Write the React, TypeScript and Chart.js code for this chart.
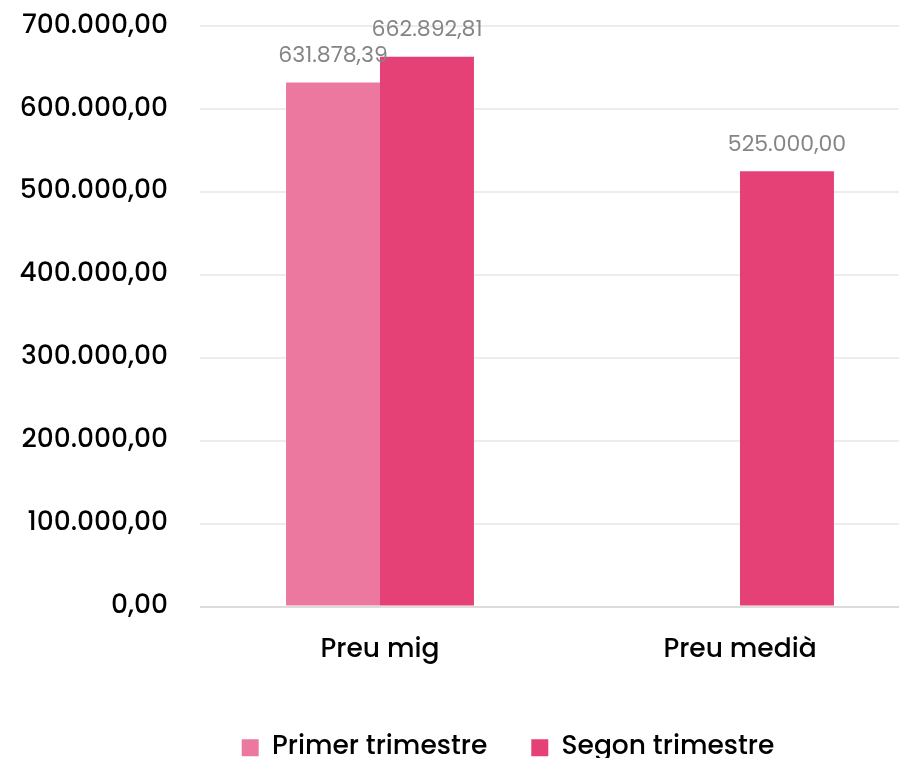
import React, { useEffect, useRef } from 'react';
import { Chart, registerables } from 'chart.js';

Chart.register(...registerables);

const categories = ['Preu mig', 'Preu medià'];
const seriesNames = ['Primer trimestre', 'Segon trimestre'];
const primerTrimestre: (number | null)[] = [631878.39, null];
const segonTrimestre: (number | null)[] = [662892.81, 525000.0];
const yTicks = [0, 100000, 200000, 300000, 400000, 500000, 600000, 700000];
const seriesColors = ['#ec789f', '#e54177'];

const FONT = 'Poppins, Inter, "Noto Sans", sans-serif';

function fmt(v: number): string {
  const fixed = Math.abs(v).toFixed(2);
  const [intPart, dec] = fixed.split('.');
  const grouped = intPart.replace(/\B(?=(\d{3})+(?!\d))/g, '.');
  return (v < 0 ? '-' : '') + grouped + ',' + dec;
}

const dataLabelPlugin = {
  id: 'dataLabels',
  afterDatasetsDraw(chart: any) {
    const ctx = chart.ctx;
    ctx.save();
    ctx.font = `22px ${FONT}`;
    ctx.fillStyle = '#858585';
    ctx.textAlign = 'center';
    ctx.textBaseline = 'middle';
    chart.data.datasets.forEach((ds: any, di: number) => {
      const meta = chart.getDatasetMeta(di);
      meta.data.forEach((el: any, i: number) => {
        const v = ds.data[i];
        if (v === null || v === undefined) return;
        ctx.fillText(fmt(v), el.x, el.y - 26);
      });
    });
    ctx.restore();
  },
};

export default function App() {
  const ref = useRef<HTMLCanvasElement>(null);
  useEffect(() => {
    if (!ref.current) return;
    const chart = new Chart(ref.current, {
      type: 'bar',
      data: {
        labels: categories,
        datasets: [
          {
            label: seriesNames[0],
            data: primerTrimestre,
            backgroundColor: seriesColors[0],
            categoryPercentage: 0.522,
            barPercentage: 1,
          },
          {
            label: seriesNames[1],
            data: segonTrimestre,
            backgroundColor: seriesColors[1],
            categoryPercentage: 0.522,
            barPercentage: 1,
          },
        ],
      },
      options: {
        responsive: false,
        animation: false,
        devicePixelRatio: 1,
        layout: { autoPadding: false, padding: { top: 26, right: 0, left: 0, bottom: 0 } },
        plugins: {
          tooltip: { enabled: false },
          legend: {
            position: 'bottom',
            align: 'center',
            labels: {
              boxWidth: 17,
              boxHeight: 17,
              padding: 44,
              color: '#000',
              font: { family: FONT, size: 26.5, weight: 500 },
            },
          },
        },
        scales: {
          x: {
            grid: { display: false },
            border: { display: false },
            ticks: {
              color: '#000',
              padding: 20,
              font: { family: FONT, size: 26.5, weight: 500 },
            },
            title: {
              display: true,
              text: '',
              font: { size: 1 },
              padding: { top: 3, bottom: 0 },
            },
          },
          y: {
            min: 0,
            max: 700000,
            border: { display: false },
            grid: {
              drawTicks: false,
              lineWidth: 2,
              color: (c: any) => (c.tick && c.tick.value === 0 ? '#dcdcdc' : '#ededed'),
            },
            ticks: {
              color: '#000',
              padding: 32,
              font: { family: FONT, size: 26.5, weight: 500 },
              callback: (v: any) => fmt(Number(v)),
            },
            afterBuildTicks: (s: any) => {
              s.ticks = yTicks.map((v) => ({ value: v }));
            },
            afterFit: (s: any) => {
              s.width = 200;
              s.paddingTop = 0;
              s.paddingBottom = 0;
            },
          },
          yRight: {
            type: 'linear',
            position: 'right',
            display: true,
            min: 0,
            max: 700000,
            grid: { display: false, drawOnChartArea: false },
            border: { display: false },
            ticks: { display: false },
            afterFit: (s: any) => {
              s.width = 96;
              s.paddingTop = 0;
              s.paddingBottom = 0;
            },
          },
        },
      },
      plugins: [dataLabelPlugin],
    });
    return () => chart.destroy();
  }, []);

  return (
    <div
      style={{
        position: 'fixed',
        left: 0,
        top: 0,
        width: 899,
        height: 758,
        overflow: 'hidden',
        background: '#fff',
      }}
    >
      <canvas ref={ref} width={1016} height={771} style={{ display: 'block', width: 1016, height: 771 }} />
    </div>
  );
}
